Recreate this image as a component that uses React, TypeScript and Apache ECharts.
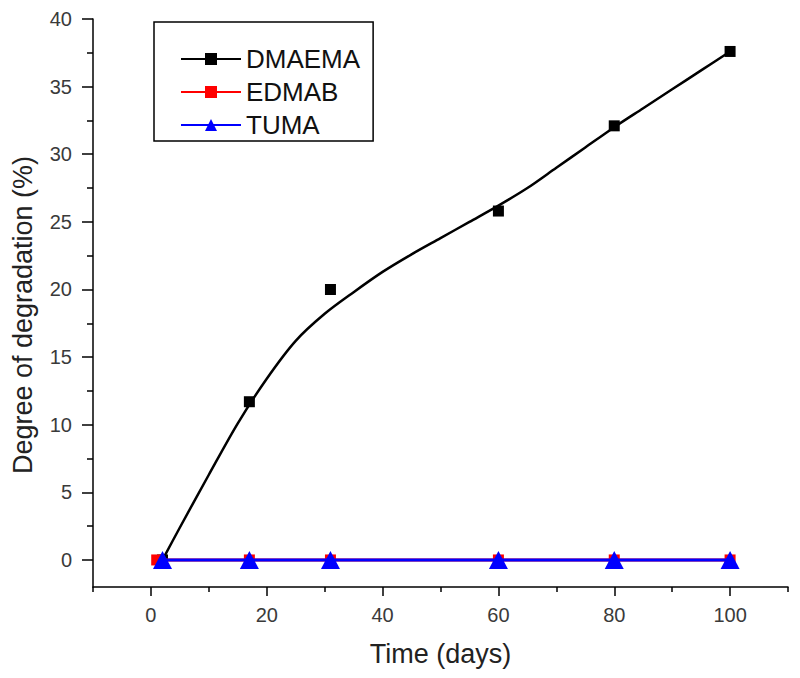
import React, { useEffect, useRef } from "react";
import * as echarts from "echarts";

// Measured data points
const dmaemaDays = [2, 17, 31, 60, 80, 100];
const dmaemaVals = [0, 11.7, 20.0, 25.8, 32.1, 37.6];
const edmabDays = [1, 17, 31, 60, 80, 100];
const edmabVals = [0, 0, 0, 0, 0, 0];
const tumaDays = [2, 17, 31, 60, 80, 100];
const tumaVals = [0, 0, 0, 0, 0, 0];

// Fitted curve for DMAEMA
const curveDays = [2, 5, 10, 15, 20, 25, 30, 35, 40, 45, 50, 55, 60, 65, 70, 75, 80, 85, 90, 95, 100];
const curveVals = [0, 2.4, 6.3, 10.1, 13.4, 16.2, 18.2, 19.8, 21.3, 22.6, 23.8, 25.0, 26.2, 27.5, 29.0, 30.5, 32.0, 33.4, 34.8, 36.2, 37.6];

// Ticks
const xMajorTicks = [0, 20, 40, 60, 80, 100];
const xMinorTicks = [-10, 10, 30, 50, 70, 90, 110];
const yMajorTicks = [0, 5, 10, 15, 20, 25, 30, 35, 40];
const yMinorTicks = [2.5, 7.5, 12.5, 17.5, 22.5, 27.5, 32.5, 37.5];

const FONT = 'Arial, "Liberation Sans", sans-serif';

export default function App() {
  const ref = useRef<HTMLDivElement>(null);
  useEffect(() => {
    if (!ref.current) return;
    const chart = echarts.init(ref.current, null, { renderer: "svg" });
    const zip = (xs: number[], ys: number[]) => xs.map((x, i) => [x, ys[i]]);
    const axisLine = { show: true, onZero: false, lineStyle: { color: "#000", width: 1.5 } };
    const noLine = { show: false, onZero: false };
    chart.setOption({
      animation: false,
      backgroundColor: "#fff",
      grid: { left: 93, right: 12, top: 19, bottom: 91, containLabel: false },
      xAxis: [
        {
          type: "value",
          min: -10,
          max: 110,
          axisLine,
          splitLine: { show: false },
          axisTick: { show: true, inside: false, length: 9, customValues: xMajorTicks, lineStyle: { color: "#000", width: 1.5 } },
          axisLabel: { show: true, customValues: xMajorTicks, margin: 18, fontSize: 20, color: "#3a3a3a", fontFamily: FONT },
          name: "Time (days)",
          nameLocation: "middle",
          nameGap: 53,
          nameTextStyle: { fontSize: 27, color: "#222", fontFamily: FONT },
        },
        {
          type: "value",
          min: -10,
          max: 110,
          position: "bottom",
          axisLine: noLine,
          splitLine: { show: false },
          axisTick: { show: true, inside: false, length: 5, customValues: xMinorTicks, lineStyle: { color: "#000", width: 1.5 } },
          axisLabel: { show: false },
        },
      ],
      yAxis: [
        {
          type: "value",
          min: -2,
          max: 40,
          axisLine,
          splitLine: { show: false },
          axisTick: { show: true, inside: false, length: 11, customValues: yMajorTicks, lineStyle: { color: "#000", width: 1.5 } },
          axisLabel: { show: true, customValues: yMajorTicks, margin: 21, fontSize: 20, color: "#3a3a3a", fontFamily: FONT },
        },
        {
          type: "value",
          min: -2,
          max: 40,
          position: "left",
          axisLine: noLine,
          splitLine: { show: false },
          axisTick: { show: true, inside: false, length: 6, customValues: yMinorTicks, lineStyle: { color: "#000", width: 1.5 } },
          axisLabel: { show: false },
        },
      ],
      legend: {
        orient: "vertical",
        left: 154,
        top: 22,
        data: ["DMAEMA", "EDMAB", "TUMA"],
        itemWidth: 60,
        itemHeight: 15,
        itemGap: 7,
        padding: [24, 13, 3, 26],
        borderColor: "#000",
        borderWidth: 1.5,
        backgroundColor: "#fff",
        textStyle: { fontSize: 26, color: "#111", fontFamily: FONT },
      },
      graphic: [
        {
          type: "text",
          x: 23,
          y: 315,
          rotation: Math.PI / 2,
          style: {
            text: "Degree of degradation (%)",
            fontSize: 27,
            fill: "#222",
            fontFamily: FONT,
            align: "center",
            verticalAlign: "middle",
          },
        },
      ],
      series: [
        {
          name: "DMAEMA",
          type: "line",
          data: zip(curveDays, curveVals),
          smooth: 0.3,
          symbol: "rect",
          symbolSize: 11,
          showSymbol: false,
          color: "#000",
          lineStyle: { color: "#000", width: 2.5 },
          z: 2,
        },
        {
          name: "DMAEMA",
          type: "scatter",
          data: zip(dmaemaDays, dmaemaVals),
          symbol: "rect",
          symbolSize: 11,
          itemStyle: { color: "#000", opacity: 1 },
          z: 3,
        },
        {
          name: "EDMAB",
          type: "line",
          data: zip(edmabDays, edmabVals),
          symbol: "rect",
          symbolSize: 11,
          showSymbol: true,
          color: "#ff0000",
          itemStyle: { color: "#ff0000", opacity: 1 },
          lineStyle: { color: "#ff0000", width: 3 },
          z: 4,
        },
        {
          name: "TUMA",
          type: "line",
          data: zip(tumaDays, tumaVals),
          symbol: "triangle",
          symbolSize: [19, 18],
          showSymbol: true,
          color: "#0000ff",
          itemStyle: { color: "#0000ff", opacity: 1 },
          lineStyle: { color: "#0000ff", width: 3 },
          z: 5,
        },
      ],
    });
    return () => chart.dispose();
  }, []);
  return (
    <div
      ref={ref}
      style={{ position: "absolute", left: 0, top: 0, width: 800, height: 678 }}
    />
  );
}
